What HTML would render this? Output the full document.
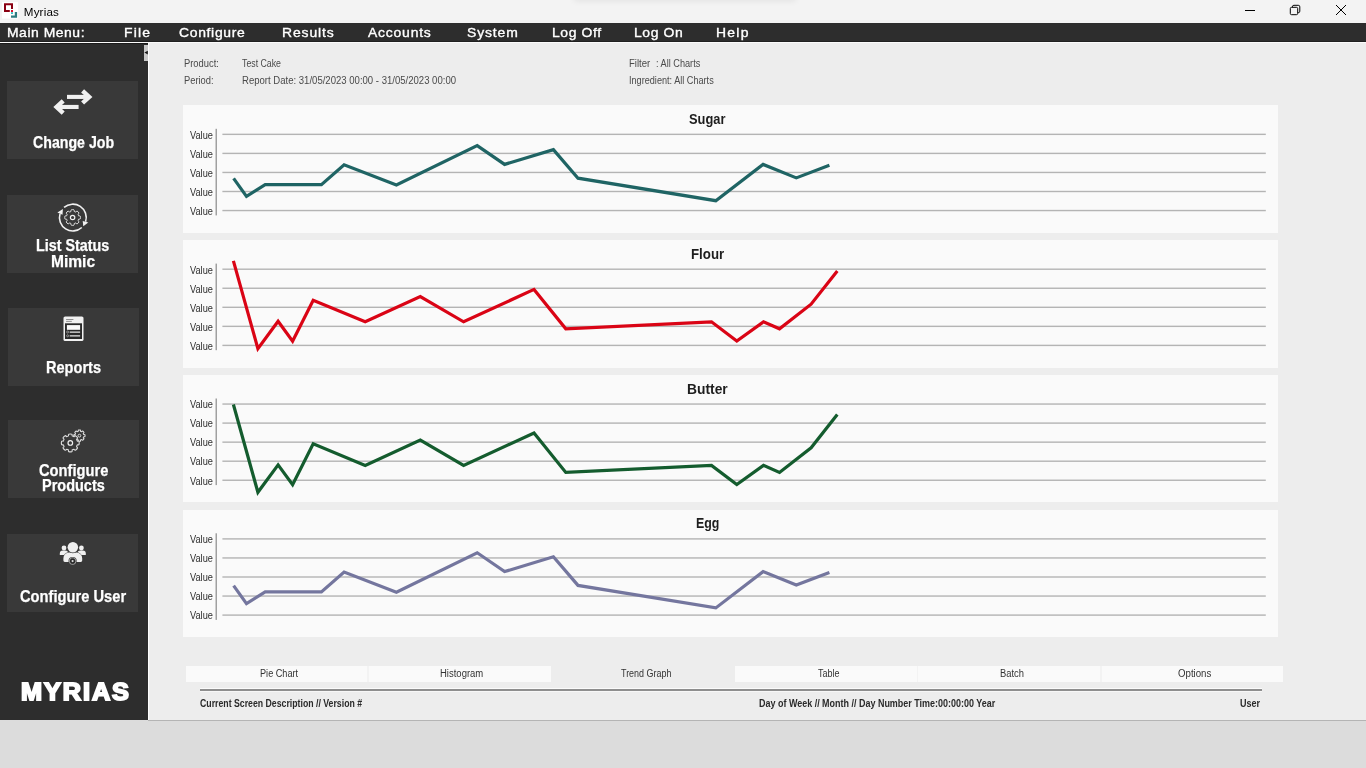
<!DOCTYPE html>
<html lang="en"><head><meta charset="utf-8"><title>Myrias</title>
<style>
html,body{margin:0;padding:0;}
body{width:1366px;height:768px;overflow:hidden;position:relative;background:#dcdcdc;font-family:"Liberation Sans", sans-serif;}
.abs{position:absolute;}
.t{position:absolute;white-space:pre;line-height:1;display:block;transform-origin:0 0;}
#titlebar{left:0;top:0;width:1366px;height:23px;background:#f3f3f3;}
#titlebar{overflow:hidden;}
#topshadow{left:575px;top:-5px;width:220px;height:5px;box-shadow:0 0 6px 1px rgba(0,0,0,0.075);}
#menubar{left:0;top:22.8px;width:1366px;height:18.8px;background:#2d2d2d;border-bottom:0.6px solid #202020;box-sizing:border-box;}
#menuline{left:0;top:41.6px;width:1366px;height:1.5px;background:#fbfbfb;}
#main{left:148px;top:43px;width:1218px;height:676.7px;background:#ededed;}
#sidebar{left:0;top:43px;width:147.8px;height:676.6px;background:#2d2d2d;border-top:1.7px solid #1b1b1b;box-sizing:border-box;}
#sideedge{left:147.8px;top:43px;width:1.2px;height:676.7px;background:#fdfdfd;}
#handle{left:144px;top:45px;width:4px;height:16px;background:#c9c9c9;}
.btn{position:absolute;background:#393939;}
.panel{position:absolute;left:183px;width:1094.8px;height:127.3px;background:#fafafa;}
.tab{position:absolute;top:665.6px;height:16.2px;width:181.8px;background:#fafafa;}
.tabgap{top:665.6px;height:16.2px;background:#f3f3f3;}
#rule{left:200px;top:688px;width:1061.5px;height:4.4px;background:linear-gradient(#fbfbfb 0,#fbfbfb 1.3px,#8e8e8e 1.3px,#8e8e8e 3.3px,#f7f7f7 3.3px,#f7f7f7 4.4px);}
#bottomline{left:148px;top:719.7px;width:1218px;height:0.9px;background:#b4b4b4;}
svg{position:absolute;left:0;top:0;overflow:visible;}
</style></head><body>
<div class="abs" id="titlebar"><div class="abs" id="topshadow"></div></div>
<svg width="20" height="20" viewBox="0 0 20 20"><rect x="2" y="2" width="16" height="16.6" fill="#fff"/><path d="M4 3.2h9v5.8h-2v-3.8h-5v4.8h3.8v2h-5.8z" fill="#8a0012"/><rect x="11" y="10" width="2" height="2" fill="#e0102a"/><rect x="11" y="12.2" width="2" height="1.8" fill="#38c0c4"/><path d="M14.8 12h2.3v5.7h-6.1v-2.3h3.8z" fill="#2e7c80"/></svg>
<svg width="1366" height="23" viewBox="0 0 1366 23"><g fill="none" stroke="#000" stroke-width="1"><path d="M1245 10.5h10"/><rect x="1290.3" y="7.3" width="7.4" height="7.4" rx="1.3"/><path d="M1292.4 7.3v-0.5a1.5 1.5 0 0 1 1.5-1.5h4.4a1.5 1.5 0 0 1 1.5 1.5v4.4a1.5 1.5 0 0 1-1.5 1.5h-0.5"/><path d="M1336 5l10 10M1346 5l-10 10"/></g></svg>
<div class="abs" id="menubar"></div><div class="abs" id="menuline"></div>
<div class="abs" id="main"></div>
<div class="abs" id="sidebar"></div><div class="abs" id="sideedge"></div><div class="abs" id="handle"></div>
<svg width="148" height="70" viewBox="0 0 148 70"><path d="M147.8 50.8v3.6l-3.4-1.8z" fill="#161616"/></svg>
<div class="btn" style="left:6.65px;top:80.9px;width:131.55px;height:77.9px"></div>
<div class="btn" style="left:6.65px;top:194.8px;width:131.55px;height:78.2px"></div>
<div class="btn" style="left:7.7px;top:307.9px;width:131.50px;height:78.0px"></div>
<div class="btn" style="left:7.7px;top:420.3px;width:131.50px;height:78.1px"></div>
<div class="btn" style="left:6.65px;top:533.8px;width:131.55px;height:78.1px"></div>
<svg class="icons" width="148" height="768" viewBox="0 0 148 768">
<g fill="none" stroke="#f1f1f1" stroke-linejoin="miter"><path d="M67 96.9H88.5" stroke-width="4.1"/><path d="M82.6 90.8L89.2 96.9L82.6 103.0" stroke-width="4.4"/><path d="M78.6 106.95H57.3" stroke-width="4.1"/><path d="M63.2 100.85L56.6 106.95L63.2 113.05" stroke-width="4.4"/></g>
<g fill="none" stroke="#f1f1f1" stroke-width="1.6"><path d="M64.06 207.44A13.4 13.4 0 0 1 85.59 221.69"/>
<path d="M81.82 227.51A13.4 13.4 0 0 1 60.04 213.63"/></g>
<path d="M82.7 221.0L88.3 222.4L83.3 226.2Z" fill="#f1f1f1"/>
<path d="M57.4 212.4L62.9 209.0L62.5 214.8Z" fill="#f1f1f1"/>
<path d="M78.70 215.93Q80.11 215.70 80.28 216.16Q80.71 217.50 80.28 218.84Q80.11 219.30 78.70 219.07Q78.19 219.81 78.02 220.71Q79.18 221.53 78.98 221.99Q78.34 223.24 77.09 223.88Q76.63 224.08 75.81 222.92Q74.91 223.09 74.17 223.60Q74.40 225.01 73.94 225.18Q72.60 225.61 71.26 225.18Q70.80 225.01 71.03 223.60Q70.29 223.09 69.39 222.92Q68.57 224.08 68.11 223.88Q66.86 223.24 66.22 221.99Q66.02 221.53 67.18 220.71Q67.01 219.81 66.50 219.07Q65.09 219.30 64.92 218.84Q64.49 217.50 64.92 216.16Q65.09 215.70 66.50 215.93Q67.01 215.19 67.18 214.29Q66.02 213.47 66.22 213.01Q66.86 211.76 68.11 211.12Q68.57 210.92 69.39 212.08Q70.29 211.91 71.03 211.40Q70.80 209.99 71.26 209.82Q72.60 209.39 73.94 209.82Q74.40 209.99 74.17 211.40Q74.91 211.91 75.81 212.08Q76.63 210.92 77.09 211.12Q78.34 211.76 78.98 213.01Q79.18 213.47 78.02 214.29Q78.19 215.19 78.70 215.93Z" fill="none" stroke="#e0e0e0" stroke-width="1.0" stroke-linejoin="round"/>
<circle cx="72.6" cy="217.5" r="2.2" fill="none" stroke="#f1f1f1" stroke-width="1.2"/>
<rect x="63.5" y="316.5" width="20" height="24.5" rx="1.6" fill="#f1f1f1"/>
<rect x="65" y="323.3" width="17" height="15.7" fill="#2a2a2a"/>
<rect x="66.1" y="319.2" width="7.3" height="0.8" fill="#777"/><rect x="66.1" y="320.9" width="5.7" height="0.8" fill="#777"/>
<rect x="66.9" y="325.1" width="13.2" height="4.7" fill="#fafafa"/>
<rect x="69.7" y="331.4" width="10.4" height="1.5" fill="#c8c8c8"/><rect x="69.7" y="335.1" width="10.4" height="1.5" fill="#c8c8c8"/>
<circle cx="67.6" cy="332" r="1.0" fill="none" stroke="#c8c8c8" stroke-width="0.6"/><circle cx="67.6" cy="335.8" r="1.0" fill="none" stroke="#c8c8c8" stroke-width="0.6"/>
<path d="M83.76 434.53Q84.79 434.36 84.92 434.69Q85.22 435.65 84.92 436.61Q84.79 436.94 83.76 436.77Q83.39 437.30 83.27 437.94Q84.13 438.55 83.98 438.87Q83.52 439.77 82.62 440.23Q82.30 440.38 81.69 439.52Q81.05 439.64 80.52 440.01Q80.69 441.04 80.36 441.17Q79.40 441.47 78.44 441.17Q78.11 441.04 78.28 440.01Q77.75 439.64 77.11 439.52Q76.50 440.38 76.18 440.23Q75.28 439.77 74.82 438.87Q74.67 438.55 75.53 437.94Q75.41 437.30 75.04 436.77Q74.01 436.94 73.88 436.61Q73.58 435.65 73.88 434.69Q74.01 434.36 75.04 434.53Q75.41 434.00 75.53 433.36Q74.67 432.75 74.82 432.43Q75.28 431.53 76.18 431.07Q76.50 430.92 77.11 431.78Q77.75 431.66 78.28 431.29Q78.11 430.26 78.44 430.13Q79.40 429.83 80.36 430.13Q80.69 430.26 80.52 431.29Q81.05 431.66 81.69 431.78Q82.30 430.92 82.62 431.07Q83.52 431.53 83.98 432.43Q84.13 432.75 83.27 433.36Q83.39 434.00 83.76 434.53Z" fill="#393939" stroke="#dcdcdc" stroke-width="1.1" stroke-linejoin="round"/>
<circle cx="79.4" cy="435.65" r="1.4" fill="none" stroke="#dcdcdc" stroke-width="1.0"/>
<path d="M77.37 441.13Q78.82 440.90 79.02 441.43Q79.50 442.95 79.02 444.47Q78.82 445.00 77.37 444.77Q76.77 445.63 76.58 446.67Q77.77 447.53 77.54 448.04Q76.81 449.46 75.39 450.19Q74.88 450.42 74.02 449.23Q72.98 449.42 72.12 450.02Q72.35 451.47 71.82 451.67Q70.30 452.15 68.78 451.67Q68.25 451.47 68.48 450.02Q67.62 449.42 66.58 449.23Q65.72 450.42 65.21 450.19Q63.79 449.46 63.06 448.04Q62.83 447.53 64.02 446.67Q63.83 445.63 63.23 444.77Q61.78 445.00 61.58 444.47Q61.10 442.95 61.58 441.43Q61.78 440.90 63.23 441.13Q63.83 440.27 64.02 439.23Q62.83 438.37 63.06 437.86Q63.79 436.44 65.21 435.71Q65.72 435.48 66.58 436.67Q67.62 436.48 68.48 435.88Q68.25 434.43 68.78 434.23Q70.30 433.75 71.82 434.23Q72.35 434.43 72.12 435.88Q72.98 436.48 74.02 436.67Q74.88 435.48 75.39 435.71Q76.81 436.44 77.54 437.86Q77.77 438.37 76.58 439.23Q76.77 440.27 77.37 441.13Z" fill="#393939" stroke="#dcdcdc" stroke-width="1.15" stroke-linejoin="round"/>
<circle cx="70.3" cy="442.95" r="2.3" fill="none" stroke="#f1f1f1" stroke-width="1.2"/>
<circle cx="64.0" cy="548.0" r="2.4" fill="#efefef"/><circle cx="81.4" cy="548.0" r="2.4" fill="#efefef"/>
<path d="M59.8 555.0v-1.4a3 3 0 0 1 3-3h2.4a3 3 0 0 1 3 3v1.4z" fill="#efefef"/><path d="M77.4 555.0v-1.4a3 3 0 0 1 3-3h2.4a3 3 0 0 1 3 3v1.4z" fill="#efefef"/>
<path d="M62.9 563.0v-4.4a6.6 6.6 0 0 1 6.6-6.6h6.6a6.6 6.6 0 0 1 6.6 6.6v4.4z" fill="#393939"/>
<path d="M63.4 560.6v-2.4a5.6 5.6 0 0 1 5.6-5.6h7.6a5.6 5.6 0 0 1 5.6 5.6v2.4a1.4 1.4 0 0 1-1.4 1.4h-16a1.4 1.4 0 0 1-1.4-1.4z" fill="#efefef"/>
<circle cx="72.85" cy="547.3" r="5.9" fill="#393939"/><circle cx="72.85" cy="547.3" r="5.25" fill="#efefef"/>
<circle cx="72.6" cy="561.1" r="4.1" fill="#393939"/><circle cx="72.6" cy="561.1" r="3.35" fill="none" stroke="#a8a8a8" stroke-width="0.9"/>
<path d="M74.39 560.48Q75.05 560.30 75.13 560.51Q75.30 561.10 75.13 561.69Q75.05 561.90 74.39 561.72Q74.18 562.01 74.04 562.34Q74.51 562.82 74.38 563.00Q73.95 563.44 73.35 563.59Q73.14 563.62 72.96 562.97Q72.60 562.92 72.24 562.97Q72.06 563.62 71.85 563.59Q71.25 563.44 70.82 563.00Q70.69 562.82 71.16 562.34Q71.02 562.01 70.81 561.72Q70.15 561.90 70.07 561.69Q69.90 561.10 70.07 560.51Q70.15 560.30 70.81 560.48Q71.02 560.19 71.16 559.86Q70.69 559.38 70.82 559.20Q71.25 558.76 71.85 558.61Q72.06 558.58 72.24 559.23Q72.60 559.28 72.96 559.23Q73.14 558.58 73.35 558.61Q73.95 558.76 74.38 559.20Q74.51 559.38 74.04 559.86Q74.18 560.19 74.39 560.48Z" fill="#262626"/><circle cx="72.6" cy="561.1" r="1.1" fill="#dcdcdc"/>
</svg>
<div class="panel" style="top:105.40px"></div>
<div class="panel" style="top:240.25px"></div>
<div class="panel" style="top:375.10px"></div>
<div class="panel" style="top:509.95px"></div>
<svg class="charts" width="1366" height="768" viewBox="0 0 1366 768">
<rect x="215.6" y="128.8" width="1.2" height="86.6" fill="#8a8a8a"/>
<rect x="222.4" y="133.65" width="1043.4" height="1.4" fill="#b4b4b4"/>
<rect x="222.4" y="152.70" width="1043.4" height="1.4" fill="#b4b4b4"/>
<rect x="222.4" y="171.75" width="1043.4" height="1.4" fill="#b4b4b4"/>
<rect x="222.4" y="190.80" width="1043.4" height="1.4" fill="#b4b4b4"/>
<rect x="222.4" y="209.85" width="1043.4" height="1.4" fill="#b4b4b4"/>
<polyline points="233.6,178.4 246.5,196.4 265.2,184.7 321.4,184.7 344.1,164.8 396.4,185.0 477.2,145.6 504.6,164.4 553.4,149.6 578.0,178.2 715.8,200.7 763.1,164.4 796.3,177.9 829.4,165.3" fill="none" stroke="#1f6464" stroke-width="3.2" stroke-linejoin="miter" stroke-linecap="butt"/>
<rect x="215.6" y="263.6" width="1.2" height="86.6" fill="#8a8a8a"/>
<rect x="222.4" y="268.50" width="1043.4" height="1.4" fill="#b4b4b4"/>
<rect x="222.4" y="287.55" width="1043.4" height="1.4" fill="#b4b4b4"/>
<rect x="222.4" y="306.60" width="1043.4" height="1.4" fill="#b4b4b4"/>
<rect x="222.4" y="325.65" width="1043.4" height="1.4" fill="#b4b4b4"/>
<rect x="222.4" y="344.70" width="1043.4" height="1.4" fill="#b4b4b4"/>
<polyline points="233.4,260.9 257.9,348.7 278.1,321.3 292.6,341.2 313.2,300.2 365.2,321.8 420.3,296.5 463.6,321.8 534.0,289.4 565.8,328.8 711.5,321.8 736.8,341.0 763.5,321.8 779.5,328.8 811.1,304.2 837.3,270.9" fill="none" stroke="#da0415" stroke-width="3.2" stroke-linejoin="miter" stroke-linecap="butt"/>
<rect x="215.6" y="398.5" width="1.2" height="86.6" fill="#8a8a8a"/>
<rect x="222.4" y="403.35" width="1043.4" height="1.4" fill="#b4b4b4"/>
<rect x="222.4" y="422.40" width="1043.4" height="1.4" fill="#b4b4b4"/>
<rect x="222.4" y="441.45" width="1043.4" height="1.4" fill="#b4b4b4"/>
<rect x="222.4" y="460.50" width="1043.4" height="1.4" fill="#b4b4b4"/>
<rect x="222.4" y="479.55" width="1043.4" height="1.4" fill="#b4b4b4"/>
<polyline points="233.4,404.5 257.9,492.3 278.1,464.9 292.6,484.8 313.2,443.8 365.2,465.4 420.3,440.1 463.6,465.4 534.0,433.0 565.8,472.4 711.5,465.4 736.8,484.6 763.5,465.4 779.5,472.4 811.1,447.8 837.3,414.5" fill="none" stroke="#145c2e" stroke-width="3.2" stroke-linejoin="miter" stroke-linecap="butt"/>
<rect x="215.6" y="533.3" width="1.2" height="86.6" fill="#8a8a8a"/>
<rect x="222.4" y="538.20" width="1043.4" height="1.4" fill="#b4b4b4"/>
<rect x="222.4" y="557.25" width="1043.4" height="1.4" fill="#b4b4b4"/>
<rect x="222.4" y="576.30" width="1043.4" height="1.4" fill="#b4b4b4"/>
<rect x="222.4" y="595.35" width="1043.4" height="1.4" fill="#b4b4b4"/>
<rect x="222.4" y="614.40" width="1043.4" height="1.4" fill="#b4b4b4"/>
<polyline points="233.6,585.6 246.5,603.6 265.2,591.9 321.4,591.9 344.1,572.0 396.4,592.2 477.2,552.8 504.6,571.6 553.4,556.8 578.0,585.4 715.8,607.9 763.1,571.6 796.3,585.1 829.4,572.5" fill="none" stroke="#74769e" stroke-width="3.2" stroke-linejoin="miter" stroke-linecap="butt"/>
</svg>
<div class="abs tabgap" style="left:366px;width:5px"></div><div class="abs tabgap" style="left:915px;width:5px"></div><div class="abs tabgap" style="left:1098px;width:5px"></div>
<div class="tab" style="left:185.50px"></div>
<div class="tab" style="left:368.72px"></div>
<div class="tab" style="left:735.16px"></div>
<div class="tab" style="left:918.38px"></div>
<div class="tab" style="left:1101.60px"></div>
<div class="abs" id="rule"></div>
<div class="abs" id="bottomline"></div>
<span class="t " id="t0" style="left:23.80px;top:6.00px;font-size:11.6px;font-weight:400;color:#000;letter-spacing:0.172px;">Myrias</span>
<span class="t menu" id="t1" style="left:7.30px;top:26.00px;font-size:13px;font-weight:400;color:#fff;transform:scaleX(1.07);letter-spacing:0.501px;-webkit-text-stroke:0.35px #fff;">Main Menu:</span>
<span class="t menu" id="t2" style="left:123.80px;top:26.00px;font-size:13px;font-weight:400;color:#fff;transform:scaleX(1.07);letter-spacing:1.146px;-webkit-text-stroke:0.35px #fff;">File</span>
<span class="t menu" id="t3" style="left:178.90px;top:26.00px;font-size:13px;font-weight:400;color:#fff;transform:scaleX(1.07);letter-spacing:0.640px;-webkit-text-stroke:0.35px #fff;">Configure</span>
<span class="t menu" id="t4" style="left:281.80px;top:26.00px;font-size:13px;font-weight:400;color:#fff;transform:scaleX(1.07);letter-spacing:0.826px;-webkit-text-stroke:0.35px #fff;">Results</span>
<span class="t menu" id="t5" style="left:367.80px;top:26.00px;font-size:13px;font-weight:400;color:#fff;transform:scaleX(1.07);letter-spacing:0.744px;-webkit-text-stroke:0.35px #fff;">Accounts</span>
<span class="t menu" id="t6" style="left:467.10px;top:26.00px;font-size:13px;font-weight:400;color:#fff;transform:scaleX(1.07);letter-spacing:0.827px;-webkit-text-stroke:0.35px #fff;">System</span>
<span class="t menu" id="t7" style="left:552.30px;top:26.00px;font-size:13px;font-weight:400;color:#fff;transform:scaleX(1.07);letter-spacing:0.565px;-webkit-text-stroke:0.35px #fff;">Log Off</span>
<span class="t menu" id="t8" style="left:634.10px;top:26.00px;font-size:13px;font-weight:400;color:#fff;transform:scaleX(1.07);letter-spacing:0.572px;-webkit-text-stroke:0.35px #fff;">Log On</span>
<span class="t menu" id="t9" style="left:716.20px;top:26.00px;font-size:13px;font-weight:400;color:#fff;transform:scaleX(1.07);letter-spacing:1.177px;-webkit-text-stroke:0.35px #fff;">Help</span>
<span class="t sb" id="t10" style="left:32.70px;top:134.00px;font-size:16.5px;font-weight:700;color:#fff;transform:scaleX(0.8588);-webkit-text-stroke:0.25px #fff;">Change Job</span>
<span class="t sb" id="t11" style="left:36.30px;top:237.00px;font-size:16.5px;font-weight:700;color:#fff;transform:scaleX(0.8689);-webkit-text-stroke:0.25px #fff;">List Status</span>
<span class="t sb" id="t12" style="left:51.20px;top:253.00px;font-size:16.5px;font-weight:700;color:#fff;transform:scaleX(0.9430);-webkit-text-stroke:0.25px #fff;">Mimic</span>
<span class="t sb" id="t13" style="left:46.00px;top:359.00px;font-size:16.5px;font-weight:700;color:#fff;transform:scaleX(0.8822);-webkit-text-stroke:0.25px #fff;">Reports</span>
<span class="t sb" id="t14" style="left:38.50px;top:462.00px;font-size:16.5px;font-weight:700;color:#fff;transform:scaleX(0.8906);-webkit-text-stroke:0.25px #fff;">Configure</span>
<span class="t sb" id="t15" style="left:42.20px;top:477.00px;font-size:16.5px;font-weight:700;color:#fff;transform:scaleX(0.8781);-webkit-text-stroke:0.25px #fff;">Products</span>
<span class="t sb" id="t16" style="left:19.70px;top:588.00px;font-size:16.5px;font-weight:700;color:#fff;transform:scaleX(0.8910);-webkit-text-stroke:0.25px #fff;">Configure User</span>
<span class="t logo" id="t17" style="left:21.00px;top:681.00px;font-size:23px;font-weight:700;color:#fff;transform:scaleX(1.1);letter-spacing:1.746px;-webkit-text-stroke:1.8px #fff;">MYRIAS</span>
<span class="t " id="t18" style="left:184.40px;top:59.00px;font-size:10px;font-weight:400;color:#4a4a4a;transform:scaleX(0.9369);">Product:</span>
<span class="t " id="t19" style="left:242.00px;top:59.00px;font-size:10px;font-weight:400;color:#4a4a4a;transform:scaleX(0.8770);">Test Cake</span>
<span class="t " id="t20" style="left:184.40px;top:76.00px;font-size:10px;font-weight:400;color:#4a4a4a;transform:scaleX(0.9341);">Period:</span>
<span class="t " id="t21" style="left:242.00px;top:76.00px;font-size:10px;font-weight:400;color:#4a4a4a;transform:scaleX(0.9551);">Report Date: 31/05/2023 00:00 - 31/05/2023 00:00</span>
<span class="t " id="t22" style="left:629.00px;top:59.00px;font-size:10px;font-weight:400;color:#4a4a4a;transform:scaleX(0.9580);">Filter</span>
<span class="t " id="t23" style="left:656.20px;top:59.00px;font-size:10px;font-weight:400;color:#4a4a4a;transform:scaleX(0.9161);">: All Charts</span>
<span class="t " id="t24" style="left:629.00px;top:76.00px;font-size:10px;font-weight:400;color:#4a4a4a;transform:scaleX(0.9124);">Ingredient: All Charts</span>
<span class="t " id="t25" style="left:689.40px;top:111.00px;font-size:15px;font-weight:700;color:#1e1e1e;transform:scaleX(0.8562);">Sugar</span>
<span class="t " id="t26" style="left:190.00px;top:131.00px;font-size:10px;font-weight:400;color:#2e2e2e;transform:scaleX(0.9218);">Value</span>
<span class="t " id="t27" style="left:190.00px;top:150.00px;font-size:10px;font-weight:400;color:#2e2e2e;transform:scaleX(0.9218);">Value</span>
<span class="t " id="t28" style="left:190.00px;top:169.00px;font-size:10px;font-weight:400;color:#2e2e2e;transform:scaleX(0.9218);">Value</span>
<span class="t " id="t29" style="left:190.00px;top:188.00px;font-size:10px;font-weight:400;color:#2e2e2e;transform:scaleX(0.9218);">Value</span>
<span class="t " id="t30" style="left:190.00px;top:207.00px;font-size:10px;font-weight:400;color:#2e2e2e;transform:scaleX(0.9218);">Value</span>
<span class="t " id="t31" style="left:691.20px;top:246.00px;font-size:15px;font-weight:700;color:#1e1e1e;transform:scaleX(0.8853);">Flour</span>
<span class="t " id="t32" style="left:190.00px;top:266.00px;font-size:10px;font-weight:400;color:#2e2e2e;transform:scaleX(0.9218);">Value</span>
<span class="t " id="t33" style="left:190.00px;top:285.00px;font-size:10px;font-weight:400;color:#2e2e2e;transform:scaleX(0.9218);">Value</span>
<span class="t " id="t34" style="left:190.00px;top:304.00px;font-size:10px;font-weight:400;color:#2e2e2e;transform:scaleX(0.9218);">Value</span>
<span class="t " id="t35" style="left:190.00px;top:323.00px;font-size:10px;font-weight:400;color:#2e2e2e;transform:scaleX(0.9218);">Value</span>
<span class="t " id="t36" style="left:190.00px;top:342.00px;font-size:10px;font-weight:400;color:#2e2e2e;transform:scaleX(0.9218);">Value</span>
<span class="t " id="t37" style="left:687.30px;top:381.00px;font-size:15px;font-weight:700;color:#1e1e1e;transform:scaleX(0.9214);">Butter</span>
<span class="t " id="t38" style="left:190.00px;top:400.00px;font-size:10px;font-weight:400;color:#2e2e2e;transform:scaleX(0.9218);">Value</span>
<span class="t " id="t39" style="left:190.00px;top:419.00px;font-size:10px;font-weight:400;color:#2e2e2e;transform:scaleX(0.9218);">Value</span>
<span class="t " id="t40" style="left:190.00px;top:438.00px;font-size:10px;font-weight:400;color:#2e2e2e;transform:scaleX(0.9218);">Value</span>
<span class="t " id="t41" style="left:190.00px;top:457.00px;font-size:10px;font-weight:400;color:#2e2e2e;transform:scaleX(0.9218);">Value</span>
<span class="t " id="t42" style="left:190.00px;top:477.00px;font-size:10px;font-weight:400;color:#2e2e2e;transform:scaleX(0.9218);">Value</span>
<span class="t " id="t43" style="left:696.20px;top:515.00px;font-size:15px;font-weight:700;color:#1e1e1e;transform:scaleX(0.8256);">Egg</span>
<span class="t " id="t44" style="left:190.00px;top:535.00px;font-size:10px;font-weight:400;color:#2e2e2e;transform:scaleX(0.9218);">Value</span>
<span class="t " id="t45" style="left:190.00px;top:554.00px;font-size:10px;font-weight:400;color:#2e2e2e;transform:scaleX(0.9218);">Value</span>
<span class="t " id="t46" style="left:190.00px;top:573.00px;font-size:10px;font-weight:400;color:#2e2e2e;transform:scaleX(0.9218);">Value</span>
<span class="t " id="t47" style="left:190.00px;top:592.00px;font-size:10px;font-weight:400;color:#2e2e2e;transform:scaleX(0.9218);">Value</span>
<span class="t " id="t48" style="left:190.00px;top:611.00px;font-size:10px;font-weight:400;color:#2e2e2e;transform:scaleX(0.9218);">Value</span>
<span class="t " id="t49" style="left:259.70px;top:669.00px;font-size:10px;font-weight:400;color:#333;transform:scaleX(0.9139);">Pie Chart</span>
<span class="t " id="t50" style="left:439.50px;top:669.00px;font-size:10px;font-weight:400;color:#333;transform:scaleX(0.9500);">Histogram</span>
<span class="t " id="t51" style="left:620.80px;top:669.00px;font-size:10px;font-weight:400;color:#333;transform:scaleX(0.8948);">Trend Graph</span>
<span class="t " id="t52" style="left:818.00px;top:669.00px;font-size:10px;font-weight:400;color:#333;transform:scaleX(0.8993);">Table</span>
<span class="t " id="t53" style="left:999.50px;top:669.00px;font-size:10px;font-weight:400;color:#333;transform:scaleX(0.9383);">Batch</span>
<span class="t " id="t54" style="left:1178.20px;top:669.00px;font-size:10px;font-weight:400;color:#333;transform:scaleX(0.9661);">Options</span>
<span class="t " id="t55" style="left:200.10px;top:699.00px;font-size:10px;font-weight:700;color:#2a2a2a;transform:scaleX(0.8733);">Current Screen Description // Version #</span>
<span class="t " id="t56" style="left:758.70px;top:699.00px;font-size:10px;font-weight:700;color:#2a2a2a;transform:scaleX(0.8966);">Day of Week // Month // Day Number Time:00:00:00 Year</span>
<span class="t " id="t57" style="left:1240.10px;top:699.00px;font-size:10px;font-weight:700;color:#2a2a2a;transform:scaleX(0.9034);">User</span>
</body></html>
